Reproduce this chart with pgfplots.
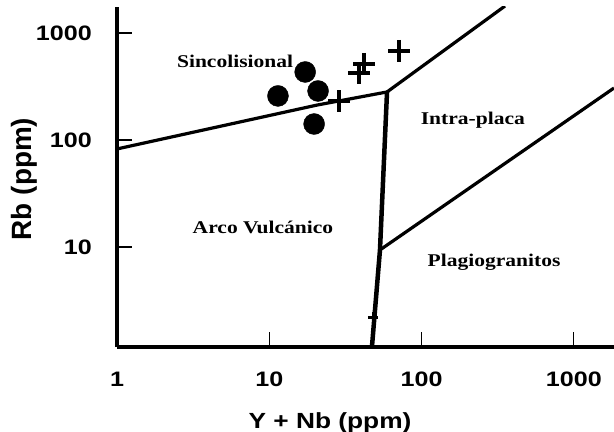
\documentclass[border=0pt]{standalone}
\usepackage{fontspec}
\setmainfont{Liberation Serif}
\newfontfamily\labfont[FakeStretch=1.2]{Liberation Serif}
\newfontfamily\sansw[FakeStretch=1.2]{Liberation Sans}
\newfontfamily\sansn{Liberation Sans}
\usepackage{pgfplots}
\pgfplotsset{compat=1.18}
\begin{document}
\begin{tikzpicture}
\useasboundingbox (-117bp,-85bp) rectangle (497bp,347bp);
\begin{axis}[
  scale only axis, width=497bp, height=340bp,
  xmode=log, ymode=log,
  xmin=1, xmax=1834, ymin=1.16, ymax=1750,
  axis x line*=bottom, axis y line*=left,
  axis line style={line width=4.5bp, -, black},
  xtick={1,10,100,1000}, xticklabels={1,10,100,1000},
  ytick={10,100,1000}, yticklabels={10,100,1000},
  xminorticks=false, yminorticks=false,
  tick align=inside, major tick length=15bp,
  major tick style={line width=1.2bp, black},
  xticklabel style={font=\sansw\bfseries\fontsize{21}{21}\selectfont, inner sep=0pt, anchor=north, yshift=-25bp},
  yticklabel style={font=\sansw\bfseries\fontsize{21}{21}\selectfont, inner sep=0pt, anchor=east, xshift=-25bp},
  clip=true,
]
% boundary lines
\addplot[black, line width=3.2bp, line join=round] coordinates {(1,82.4) (20.6,212) (59.3,281)};
\addplot[black, line width=3.2bp, line join=round] coordinates {(59.3,281) (353,1787)};
\addplot[black, line width=4.5bp, line join=round] coordinates {(47.2,1.16) (53.3,9.37) (59.3,281)};
\addplot[black, line width=3.2bp, line join=round] coordinates {(53.3,9.37) (1834,306)};
% samples: circles
\addplot[only marks, mark=*, mark size=10.5bp, black] coordinates {(17.2,432) (11.4,258) (20.9,287) (19.7,141)};
% samples: crosses
\addplot[only marks, mark=+, mark size=11bp, black, mark options={line width=3.2bp}] coordinates {(71.1,679) (41.9,513) (38.8,423) (28.7,231)};
\addplot[only marks, mark=+, mark size=5bp, black, mark options={line width=2.5bp}] coordinates {(47.9,2.2)};
% field names
\node[font=\labfont\bfseries\fontsize{18}{18}\selectfont] at (axis cs:5.96,547) {Sincolisional};
\node[font=\labfont\bfseries\fontsize{18}{18}\selectfont] at (axis cs:217,154) {Intra-placa};
\node[font=\labfont\bfseries\fontsize{18}{18}\selectfont] at (axis cs:9.09,15.1) {Arco Vulcánico};
\node[font=\labfont\bfseries\fontsize{18}{18}\selectfont] at (axis cs:299,7.25) {Plagiogranitos};
\end{axis}
\node[font=\sansw\bfseries\fontsize{22}{22}\selectfont, anchor=center] at (213bp,-76bp) {Y + Nb (ppm)};
\node[font=\sansn\bfseries\fontsize{28}{28}\selectfont, anchor=center, rotate=90] at (-93bp,168bp) {Rb (ppm)};
\end{tikzpicture}
\end{document}
